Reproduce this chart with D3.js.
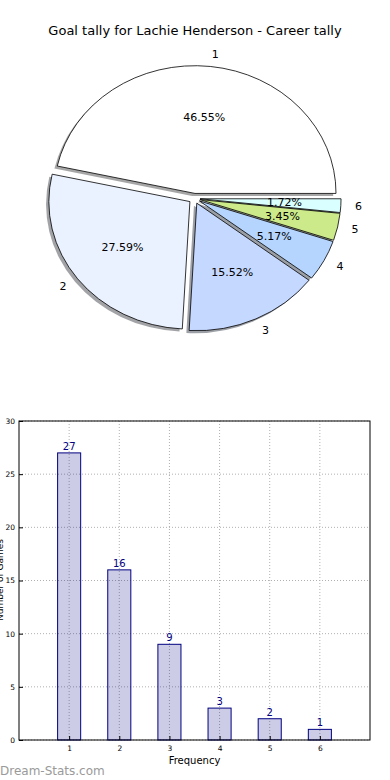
<!DOCTYPE html>
<html>
<head>
<meta charset="utf-8">
<script src="https://cdn.jsdelivr.net/npm/d3@7"></script>
<style>
  body { margin: 0; background: #fff; }
  svg { display: block; font-family: 'DejaVu Sans', sans-serif; }
</style>
</head>
<body>
<svg id="chart" width="390" height="780"></svg>
<script>
// data
const categories = ['1', '2', '3', '4', '5', '6'];
const counts = [27, 16, 9, 3, 2, 1];
const sliceColors = ['#ffffff', '#eaf1ff', '#c5d8ff', '#b5d5ff', '#ccea8a', '#d9ffff'];
const yTicks = [0, 5, 10, 15, 20, 25, 30];
const titleText = 'Goal tally for Lachie Henderson - Career tally';

const svg = d3.select('#chart');

// title
svg.append('text')
  .attr('x', 195).attr('y', 35)
  .attr('text-anchor', 'middle')
  .style('font-size', '13px')
  .text(titleText);

// ---- pie (matplotlib style: start at 3 o'clock, counterclockwise) ----
const pieCfg = { cx: 194.4, cy: 198.5, rx: 141, ry: 127.5, explode: 0.04 };
const total = d3.sum(counts);

const pie = d3.pie().sort(null)
  .startAngle(Math.PI / 2)
  .endAngle(Math.PI / 2 - 2 * Math.PI);
const arcs = pie(counts);
const unitArc = d3.arc().innerRadius(0).outerRadius(1);

const midDir = d => {
  const m = (d.startAngle + d.endAngle) / 2;
  return [Math.sin(m), -Math.cos(m)];
};
const sliceOrigin = d => {
  const [ux, uy] = midDir(d);
  return [pieCfg.cx + pieCfg.explode * pieCfg.rx * ux, pieCfg.cy + pieCfg.explode * pieCfg.ry * uy];
};

const pieG = svg.append('g');

// shadows first
pieG.selectAll('.shadow')
  .data(arcs)
  .join('path')
    .attr('class', 'shadow')
    .attr('d', unitArc)
    .attr('transform', d => {
      const [ox, oy] = sliceOrigin(d);
      return `translate(${ox - 2.8},${oy + 2.6}) scale(${pieCfg.rx},${pieCfg.ry})`;
    })
    .attr('fill', (d, i) => {
      const c = d3.rgb(sliceColors[i]);
      return d3.rgb(c.r * 0.3, c.g * 0.3, c.b * 0.3);
    })
    .attr('fill-opacity', 0.5);

pieG.selectAll('.wedge')
  .data(arcs)
  .join('path')
    .attr('class', 'wedge')
    .attr('d', unitArc)
    .attr('transform', d => {
      const [ox, oy] = sliceOrigin(d);
      return `translate(${ox},${oy}) scale(${pieCfg.rx},${pieCfg.ry})`;
    })
    .attr('fill', (d, i) => sliceColors[i])
    .attr('stroke', '#000')
    .attr('stroke-width', 0.8)
    .attr('vector-effect', 'non-scaling-stroke');

// percentage labels
pieG.selectAll('.pct')
  .data(arcs)
  .join('text')
    .attr('class', 'pct')
    .attr('x', d => sliceOrigin(d)[0] + 0.6 * pieCfg.rx * midDir(d)[0])
    .attr('y', d => sliceOrigin(d)[1] + 0.6 * pieCfg.ry * midDir(d)[1])
    .attr('text-anchor', 'middle')
    .attr('dominant-baseline', 'central')
    .style('font-size', '11px')
    .text(d => (d.value / total * 100).toFixed(2) + '%');

// category labels
pieG.selectAll('.lbl')
  .data(arcs)
  .join('text')
    .attr('class', 'lbl')
    .attr('x', d => sliceOrigin(d)[0] + 1.1 * pieCfg.rx * midDir(d)[0])
    .attr('y', d => sliceOrigin(d)[1] + 1.1 * pieCfg.ry * midDir(d)[1])
    .attr('text-anchor', d => midDir(d)[0] > 0 ? 'start' : 'end')
    .attr('dominant-baseline', 'central')
    .style('font-size', '11px')
    .text((d, i) => categories[i]);

// ---- bar chart ----
const plot = { left: 19, right: 370, top: 421, bottom: 740 };
const x = d3.scaleLinear().domain([0, 7]).range([plot.left, plot.right]);
const y = d3.scaleLinear().domain([0, 30]).range([plot.bottom, plot.top]);
const xVals = categories.map(Number);
const barW = 0.46;

const barG = svg.append('g');

// grid
barG.selectAll('.hgrid')
  .data(yTicks)
  .join('line')
    .attr('x1', plot.left).attr('x2', plot.right)
    .attr('y1', d => y(d)).attr('y2', d => y(d))
    .attr('stroke', '#b0b0b0')
    .attr('stroke-dasharray', '1,2');

barG.selectAll('.vgrid')
  .data(xVals)
  .join('line')
    .attr('x1', d => x(d)).attr('x2', d => x(d))
    .attr('y1', plot.top).attr('y2', plot.bottom)
    .attr('stroke', '#b0b0b0')
    .attr('stroke-dasharray', '1,2');

// bars
barG.selectAll('.bar')
  .data(counts)
  .join('rect')
    .attr('class', 'bar')
    .attr('x', (d, i) => x(xVals[i] - barW / 2))
    .attr('width', x(barW) - x(0))
    .attr('y', d => y(d))
    .attr('height', d => y(0) - y(d))
    .attr('fill', 'rgba(0,0,128,0.2)')
    .attr('stroke', '#000080')
    .attr('stroke-width', 1);

// value labels
barG.selectAll('.val')
  .data(counts)
  .join('text')
    .attr('x', (d, i) => x(xVals[i]))
    .attr('y', d => y(d) - 3)
    .attr('text-anchor', 'middle')
    .attr('fill', '#000080')
    .style('font-size', '10px')
    .text(d => d);

// frame
barG.append('rect')
  .attr('x', plot.left).attr('y', plot.top)
  .attr('width', plot.right - plot.left)
  .attr('height', plot.bottom - plot.top)
  .attr('fill', 'none')
  .attr('stroke', '#000')
  .attr('stroke-width', 1);

// axes
const xAxis = d3.axisBottom(x).tickValues(xVals).tickFormat(d3.format('d')).tickSize(-4).tickPadding(6);
const yAxis = d3.axisLeft(y).tickValues(yTicks).tickFormat(d3.format('d')).tickSize(-4).tickPadding(4);

barG.append('g')
  .attr('transform', `translate(0,${plot.bottom})`)
  .call(xAxis)
  .call(g => g.select('.domain').remove())
  .call(g => g.selectAll('text').style('font-size', '7.5px').attr('font-family', 'DejaVu Sans'));

barG.append('g')
  .attr('transform', `translate(${plot.left},0)`)
  .call(yAxis)
  .call(g => g.select('.domain').remove())
  .call(g => g.selectAll('text').style('font-size', '7.5px').attr('font-family', 'DejaVu Sans'));

// axis titles
barG.append('text')
  .attr('x', (plot.left + plot.right) / 2)
  .attr('y', 764)
  .attr('text-anchor', 'middle')
  .style('font-size', '10px')
  .text('Frequency');

// y title sits partly past the left edge, as in the original export
barG.append('text')
  .attr('transform', 'rotate(-90)')
  .attr('x', -580)
  .attr('y', 3)
  .attr('text-anchor', 'middle')
  .style('font-size', '9px')
  .text('Number of Games');

// watermark
svg.append('text')
  .attr('x', 0).attr('y', 775)
  .attr('fill', '#9a9a9a')
  .style('font-size', '12px')
  .text('Dream-Stats.com');
</script>
</body>
</html>
